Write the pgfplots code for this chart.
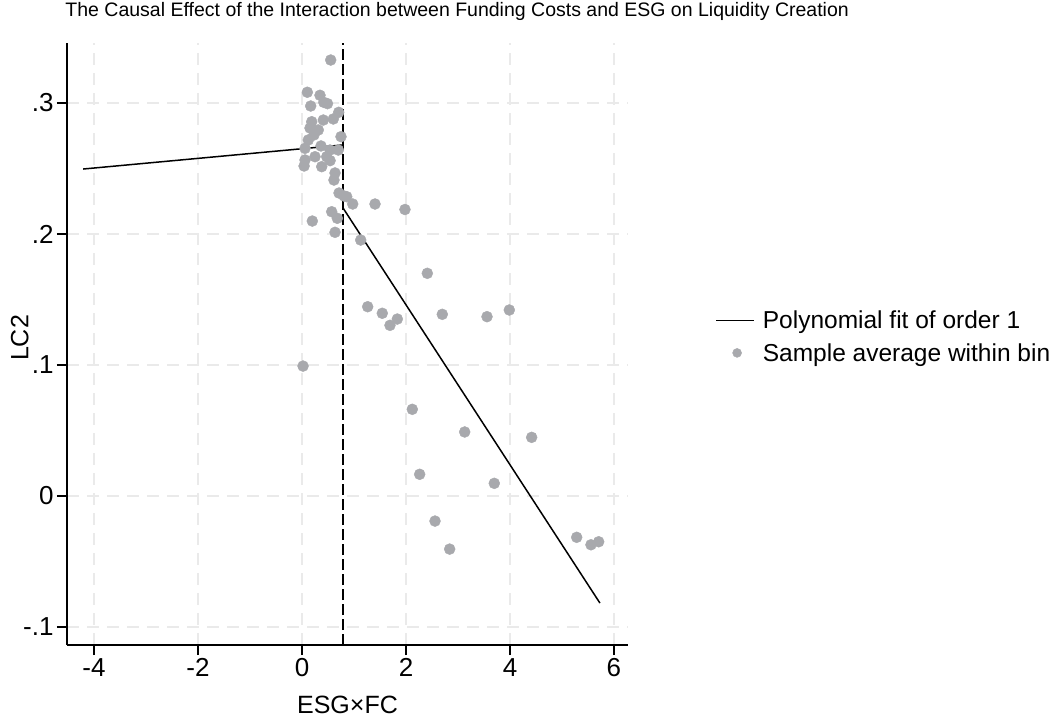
\documentclass[border=0pt]{standalone}
\usepackage{fontspec}
\setmainfont{Liberation Sans}
\usepackage{pgfplots}
\pgfplotsset{compat=1.18}
\definecolor{dotgray}{RGB}{168,169,173}
\definecolor{gridgray}{RGB}{234,234,234}

\pgfplotstableread{
x y
0.552 0.3328
0.102 0.3082
0.346 0.3059
0.42 0.3005
0.49 0.2995
0.167 0.2977
0.706 0.2929
0.602 0.2878
0.41 0.2870
0.187 0.2857
0.154 0.2809
0.313 0.2794
0.75 0.2743
0.121 0.2718
0.23 0.2756
0.058 0.2654
0.538 0.2641
0.698 0.2641
0.365 0.2672
0.25 0.2590
0.475 0.2590
0.058 0.2565
0.04 0.2519
0.379 0.2514
0.54 0.2560
0.635 0.2466
0.615 0.2412
0.712 0.2313
0.81 0.2290
0.86 0.2285
0.975 0.2229
1.404 0.2229
1.98 0.2187
0.571 0.2170
0.198 0.2099
0.679 0.2120
0.635 0.2013
1.129 0.1954
2.41 0.1700
1.263 0.1445
1.544 0.1395
1.692 0.1303
1.833 0.1351
2.698 0.1387
3.558 0.1369
3.987 0.1420
2.121 0.0662
3.129 0.0489
4.417 0.0448
2.263 0.0166
3.698 0.0097
2.558 -0.0191
2.84 -0.0405
5.283 -0.0315
5.558 -0.0372
5.706 -0.0349
0.02 0.0992
}\bins

\begin{document}
\begin{tikzpicture}
\useasboundingbox (-67pt,-78pt) rectangle (987pt,645pt);
\begin{axis}[
  at={(0pt,0pt)}, anchor=south west,
  scale only axis, width=561pt, height=602pt,
  xmin=-4.52, xmax=6.27, ymin=-0.1137, ymax=0.3458,
  axis x line*=bottom, axis y line*=left,
  axis line style={line width=1.7pt, black},
  xtick={-4,-2,0,2,4,6}, xticklabels={-4,-2,0,2,4,6},
  ytick={-0.1,0,0.1,0.2,0.3}, yticklabels={-.1,0,.1,.2,.3},
  tick align=outside, major tick length=10pt,
  tick style={line width=1.7pt, black},
  ticklabel style={font=\fontsize{26}{30}\selectfont},
  xmajorgrids, ymajorgrids,
  grid style={gridgray, line width=2pt, dash pattern=on 12pt off 8pt},
  xlabel={ESG×FC}, ylabel={LC2},
  label style={font=\fontsize{25}{29}\selectfont},
  xlabel style={at={(axis description cs:0.5,-0.1)}, anchor=center},
  ylabel style={at={(axis description cs:-0.084,0.51)}, anchor=center},
  title={The Causal Effect of the Interaction between Funding Costs and ESG on Liquidity Creation},
  title style={at={(axis description cs:-0.009,1.043)}, anchor=west, font=\fontsize{19.5}{23}\selectfont},
  legend style={at={(1.150,0.512)}, anchor=west, draw=none, fill=none,
    font=\fontsize{24.5}{28}\selectfont, row sep=9pt,
    /tikz/every odd column/.append style={column sep=6pt}},
  legend cell align=left,
  reverse legend,
  clip=false,
]
\addplot[only marks, mark=*, mark size=5.5pt, color=dotgray, mark options={draw=dotgray, fill=dotgray},
  legend image code/.code={\fill[dotgray] (21pt,0pt) circle (4.5pt);}] table[x=x,y=y] {\bins};
\addlegendentry{Sample average within bin}
\addplot[black, line width=1.5pt,
  legend image code/.code={\draw[black, line width=1.5pt] (0pt,0pt) -- (38pt,0pt);}] coordinates {(-4.21,0.2496) (0.79,0.268)};
\addlegendentry{Polynomial fit of order 1}
\addplot[black, line width=1.5pt, forget plot] coordinates {(0.79,0.2198) (5.73,-0.0817)};
\addplot[black, line width=2pt, dash pattern=on 11pt off 4pt, forget plot] coordinates {(0.78,-0.1137) (0.78,0.3458)};
\end{axis}
\end{tikzpicture}
\end{document}
